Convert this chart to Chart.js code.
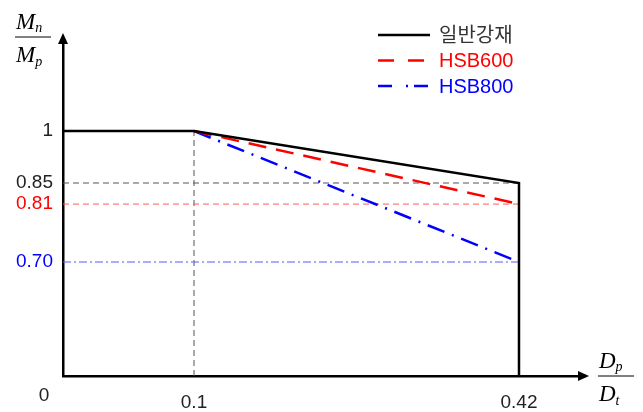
<!DOCTYPE html>
<html>
<head>
<meta charset="utf-8">
<script src="https://cdn.jsdelivr.net/npm/chart.js@4.4.1/dist/chart.umd.min.js"></script>
<style>
    html, body { margin: 0; padding: 0; background: #ffffff; }
    #wrap { width: 643px; height: 412px; }
</style>
</head>
<body>
<div id="wrap"><canvas id="chart"></canvas></div>
<script>
// series
const seriesNames = ['일반강재', 'HSB600', 'HSB800'];
const seriesColors = ['#000000', '#ff0000', '#0000ff'];
const normalX = [0, 0.1, 0.42, 0.42];
const normalY = [1, 1, 0.85, 0];
const hsbX = [0.1, 0.42];
const hsb600Y = [1, 0.81];
const hsb800Y = [1, 0.70];

// ticks
const xTicks = [0.1, 0.42];
const yTicks = [0.70, 0.81, 0.85, 1];

// the figure is a sketch, so each axis is stretched piece by piece: [value, share of axis]
const axisBreaks = {
    x: [[0, 0], [0.1, 0.2534], [0.42, 0.882], [0.5, 1]],
    y: [[0, 0], [0.70, 0.3413], [0.85, 0.5778], [1, 0.7335], [1.3, 1]]
};

const FONT = "'Liberation Sans', Arial, 'Noto Sans CJK KR', sans-serif";
const SERIF = "'Liberation Serif', 'Times New Roman', serif";

class PiecewiseScale extends Chart.LinearScale {
    toDecimal(v) {
        const b = axisBreaks[this.id];
        for (let i = 1; i < b.length; i++) {
            if (v <= b[i][0] || i === b.length - 1) {
                const [v0, f0] = b[i - 1], [v1, f1] = b[i];
                return f0 + (v - v0) / (v1 - v0) * (f1 - f0);
            }
        }
    }
    getPixelForValue(v) {
        return this.getPixelForDecimal(this.toDecimal(v));
    }
    getValueForPixel(p) {
        const d = this.getDecimalForPixel(p);
        const b = axisBreaks[this.id];
        for (let i = 1; i < b.length; i++) {
            if (d <= b[i][1] || i === b.length - 1) {
                const [v0, f0] = b[i - 1], [v1, f1] = b[i];
                return v0 + (d - f0) / (f1 - f0) * (v1 - v0);
            }
        }
    }
}
PiecewiseScale.id = 'piecewise';
PiecewiseScale.defaults = Chart.LinearScale.defaults;
Chart.register(PiecewiseScale);

function pts(xs, ys) {
    return xs.map((x, i) => ({ x: x, y: ys[i] }));
}

const lastX = hsbX[hsbX.length - 1];

// arrows, origin label, fraction titles, legend
const sketchPlugin = {
    id: 'sketch',
    afterDraw(chart) {
        const ctx = chart.ctx;
        const a = chart.chartArea;
        ctx.save();
        ctx.fillStyle = '#000';
        // arrow heads
        ctx.beginPath();
        ctx.moveTo(a.left, a.top - 9);
        ctx.lineTo(a.left - 5, a.top + 2);
        ctx.lineTo(a.left + 5, a.top + 2);
        ctx.closePath();
        ctx.fill();
        ctx.beginPath();
        ctx.moveTo(a.right + 9, a.bottom);
        ctx.lineTo(a.right - 2, a.bottom - 5);
        ctx.lineTo(a.right - 2, a.bottom + 5);
        ctx.closePath();
        ctx.fill();

        // origin label
        ctx.font = '19px ' + FONT;
        ctx.textAlign = 'center';
        ctx.textBaseline = 'middle';
        ctx.fillStyle = '#222';
        ctx.fillText('0', 44, 396);

        // axis titles as fractions
        function frac(cx, barY, top, sTop, bottom, sBottom) {
            ctx.strokeStyle = '#000';
            ctx.lineWidth = 1;
            ctx.beginPath();
            ctx.moveTo(cx - 18, barY);
            ctx.lineTo(cx + 18, barY);
            ctx.stroke();
            ctx.fillStyle = '#000';
            ctx.textAlign = 'left';
            ctx.textBaseline = 'alphabetic';
            ctx.font = 'italic 23px ' + SERIF;
            ctx.fillText(top, cx - 17, barY - 8);
            ctx.fillText(bottom, cx - 17, barY + 25);
            const w1 = ctx.measureText(top).width;
            const w2 = ctx.measureText(bottom).width;
            ctx.font = 'italic 14px ' + SERIF;
            ctx.fillText(sTop, cx - 17 + w1, barY - 5);
            ctx.fillText(sBottom, cx - 17 + w2, barY + 29);
        }
        frac(33, 37, 'M', 'n', 'M', 'p');
        frac(616, 376, 'D', 'p', 'D', 't');

        // legend
        const dashes = [[], [16, 14], [14, 14, 2, 6]];
        const textColors = ['#333333', '#ff0000', '#0000ff'];
        seriesNames.forEach((name, i) => {
            const y = 35 + i * 25.5;
            ctx.strokeStyle = seriesColors[i];
            ctx.lineWidth = 2.5;
            ctx.setLineDash(dashes[i]);
            ctx.beginPath();
            ctx.moveTo(378, y);
            ctx.lineTo(430, y);
            ctx.stroke();
            ctx.setLineDash([]);
            ctx.fillStyle = textColors[i];
            ctx.font = '20px ' + FONT;
            ctx.textAlign = 'left';
            ctx.textBaseline = 'middle';
            ctx.fillText(name, 439, y + 1);
        });
        ctx.restore();
    }
};

document.addEventListener("DOMContentLoaded", () => {
    const canvas = document.getElementById('chart');

    new Chart(canvas, {
        type: 'line',
        data: {
            datasets: [
                {
                    label: seriesNames[0],
                    data: pts(normalX, normalY),
                    borderColor: seriesColors[0],
                    borderWidth: 2.5
                },
                {
                    label: seriesNames[1],
                    data: pts(hsbX, hsb600Y),
                    borderColor: seriesColors[1],
                    borderWidth: 2.5,
                    borderDash: [18, 10]
                },
                {
                    label: seriesNames[2],
                    data: pts(hsbX, hsb800Y),
                    borderColor: seriesColors[2],
                    borderWidth: 2.5,
                    borderDash: [18, 8, 2, 8]
                },
                {
                    label: 'guide 0.85',
                    data: [{ x: 0, y: normalY[2] }, { x: lastX, y: normalY[2] }],
                    borderColor: '#555555',
                    borderWidth: 1,
                    borderDash: [6, 4]
                },
                {
                    label: 'guide 0.81',
                    data: [{ x: 0, y: hsb600Y[1] }, { x: lastX, y: hsb600Y[1] }],
                    borderColor: '#ff5a5a',
                    borderWidth: 1,
                    borderDash: [6, 4]
                },
                {
                    label: 'guide 0.70',
                    data: [{ x: 0, y: hsb800Y[1] }, { x: lastX, y: hsb800Y[1] }],
                    borderColor: '#5a5aff',
                    borderWidth: 1,
                    borderDash: [8, 3, 2, 3]
                },
                {
                    label: 'guide 0.1',
                    data: [{ x: hsbX[0], y: 0 }, { x: hsbX[0], y: hsb600Y[0] }],
                    borderColor: '#555555',
                    borderWidth: 1,
                    borderDash: [6, 4]
                }
            ]
        },
        options: {
            responsive: true,
            maintainAspectRatio: false,
            animation: false,
            layout: { padding: { left: 0, top: 42, right: 63, bottom: 0 } },
            elements: {
                point: { radius: 0, hoverRadius: 0 },
                line: { tension: 0, fill: false }
            },
            plugins: {
                legend: { display: false },
                tooltip: { enabled: false }
            },
            scales: {
                x: {
                    type: 'piecewise',
                    min: 0,
                    max: 0.5,
                    grid: { display: false },
                    border: { display: true, color: '#000', width: 2.5 },
                    afterBuildTicks: (scale) => { scale.ticks = xTicks.map(v => ({ value: v })); },
                    afterFit: (scale) => { scale.height = 36; },
                    ticks: {
                        autoSkip: false,
                        maxRotation: 0,
                        padding: 7,
                        color: '#222',
                        font: { family: FONT, size: 19 },
                        callback: (v) => String(v)
                    }
                },
                y: {
                    type: 'piecewise',
                    min: 0,
                    max: 1.3,
                    grid: { display: false },
                    border: { display: true, color: '#000', width: 2.5 },
                    afterBuildTicks: (scale) => { scale.ticks = yTicks.map(v => ({ value: v })); },
                    afterFit: (scale) => { scale.width = 63; },
                    ticks: {
                        autoSkip: false,
                        padding: 2,
                        font: { family: FONT, size: 19 },
                        color: (c) => c.tick.value === hsb600Y[1] ? '#ff0000' : (c.tick.value === hsb800Y[1] ? '#0000ff' : '#222'),
                        callback: (v) => v === 1 ? '1' : v.toFixed(2)
                    }
                }
            }
        },
        plugins: [sketchPlugin]
    });
});
</script>
</body>
</html>
